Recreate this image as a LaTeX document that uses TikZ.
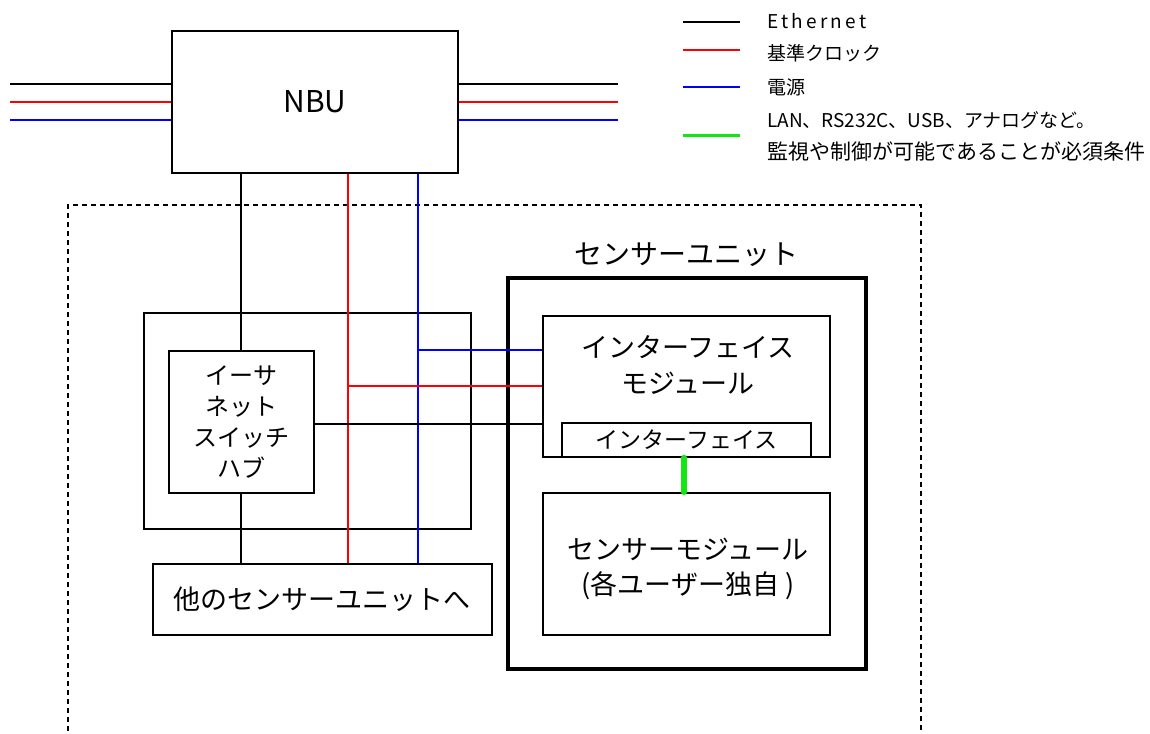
\documentclass[tikz,border=0pt]{standalone}
\usepackage{fontspec}
\setmainfont{Noto Sans CJK JP}
\definecolor{cRed}{RGB}{255,0,0}
\definecolor{cBlue}{RGB}{0,0,255}
\definecolor{cGreen}{RGB}{20,230,20}
\begin{document}
\begin{tikzpicture}[x=1pt,y=-1pt,
  box/.style={draw, line width=1.8pt, inner sep=0pt, anchor=north west, align=center},
  wire/.style={line width=1.6pt},
  redwire/.style={wire, draw=cRed},
  bluewire/.style={wire, draw=cBlue},
  greenwire/.style={line width=6pt, draw=cGreen, line cap=round},
  legtext/.style={anchor=west, inner sep=0pt, font=\fontsize{19pt}{22pt}\selectfont}
]
\useasboundingbox (0,0) rectangle (1150,733);
% dashed outer area
\draw[line width=1.4pt, dash pattern=on 5pt off 4pt] (68,740) -- (68,205) -- (921,205) -- (921,740);

% NBU
\node[box, minimum width=286pt, minimum height=142pt, font=\fontsize{30pt}{32pt}\selectfont] (nbu) at (171,30) {NBU};
% switch outer box
\node[box, minimum width=327pt, minimum height=216pt] (swo) at (143,312) {};
% ethernet switch hub
\node[box, minimum width=145pt, minimum height=142pt, font=\fontsize{24pt}{31pt}\selectfont] (esw) at (168,350) {イーサ\\ネット\\スイッチ\\ハブ};
% other sensor units
\node[box, minimum width=339pt, minimum height=71pt, font=\fontsize{27pt}{32pt}\selectfont] (oth) at (152,563) {他のセンサーユニットへ};
% sensor unit
\node[draw, line width=3.5pt, inner sep=0pt, anchor=north west, minimum width=358pt, minimum height=391pt] (su) at (506,276) {};
\node[font=\fontsize{28pt}{32pt}\selectfont, anchor=south, inner sep=0pt] (sulab) at (su.north) [yshift=9pt] {センサーユニット};
% interface module
\node[box, minimum width=287pt, minimum height=141pt] (im) at (542,315) {};
\node[font=\fontsize{27pt}{36pt}\selectfont, align=center, inner sep=0pt] (imlab) at (688,365) {インターフェイス\\モジュール};
% interface
\node[box, minimum width=249pt, minimum height=34pt, font=\fontsize{23pt}{26pt}\selectfont] (ifc) at (561,422) {インターフェイス};
% sensor module
\node[box, minimum width=287pt, minimum height=142pt] (sm) at (542,492) {};
\node[font=\fontsize{27pt}{35pt}\selectfont, align=center, inner sep=0pt] (smlab) at (688,569) {センサーモジュール\\(各ユーザー独自 )};

% NBU side lines
\coordinate (l1) at (10,84);
\coordinate (l2) at (10,102);
\coordinate (l3) at (10,120);
\coordinate (r1) at (618,84);
\coordinate (r2) at (618,102);
\coordinate (r3) at (618,120);
\draw[wire] (l1) -- (l1 -| nbu.west);
\draw[redwire] (l2) -- (l2 -| nbu.west);
\draw[bluewire] (l3) -- (l3 -| nbu.west);
\draw[wire] (r1) -- (r1 -| nbu.east);
\draw[redwire] (r2) -- (r2 -| nbu.east);
\draw[bluewire] (r3) -- (r3 -| nbu.east);

% vertical wires
\coordinate (kx) at (241,0);
\draw[wire] (kx |- esw.north) -- (kx |- nbu.south);
\draw[wire] (kx |- esw.south) -- (kx |- oth.north);
\coordinate (rx) at (348,386);
\coordinate (bx) at (418,350);
\draw[redwire] (rx |- nbu.south) -- (rx |- oth.north);
\draw[bluewire] (bx |- nbu.south) -- (bx |- oth.north);
\draw[redwire] (rx) -- (rx -| im.west);
\draw[bluewire] (bx) -- (bx -| im.west);
\coordinate (ey) at (313,424);
\draw[wire] (ey) -- (ey -| im.west);

% green link
\draw[greenwire] (ifc.south -| 684,0) -- (sm.north -| 684,0);

% legend
\coordinate (g1) at (683,22);
\coordinate (g2) at (683,50);
\coordinate (g3) at (683,87);
\coordinate (g4) at (683,135);
\draw[wire] (g1) -- ++(57,0);
\draw[redwire] (g2) -- ++(57,0);
\draw[bluewire] (g3) -- ++(57,0);
\draw[line width=3pt, draw=cGreen] (g4) -- ++(57,0);
\node[legtext] (t1) at (767,21) {E\,t\,h\,e\,r\,n\,e\,t};
\node[legtext] (t2) at (767,53) {基準クロック};
\node[legtext] (t3) at (767,87) {電源};
\node[legtext] (t4) at (767,120) {LAN、RS232C、USB、アナログなど。};
\node[legtext, font=\fontsize{21pt}{24pt}\selectfont] (t5) at (767,151) {監視や制御が可能であることが必須条件};
\end{tikzpicture}
\end{document}
